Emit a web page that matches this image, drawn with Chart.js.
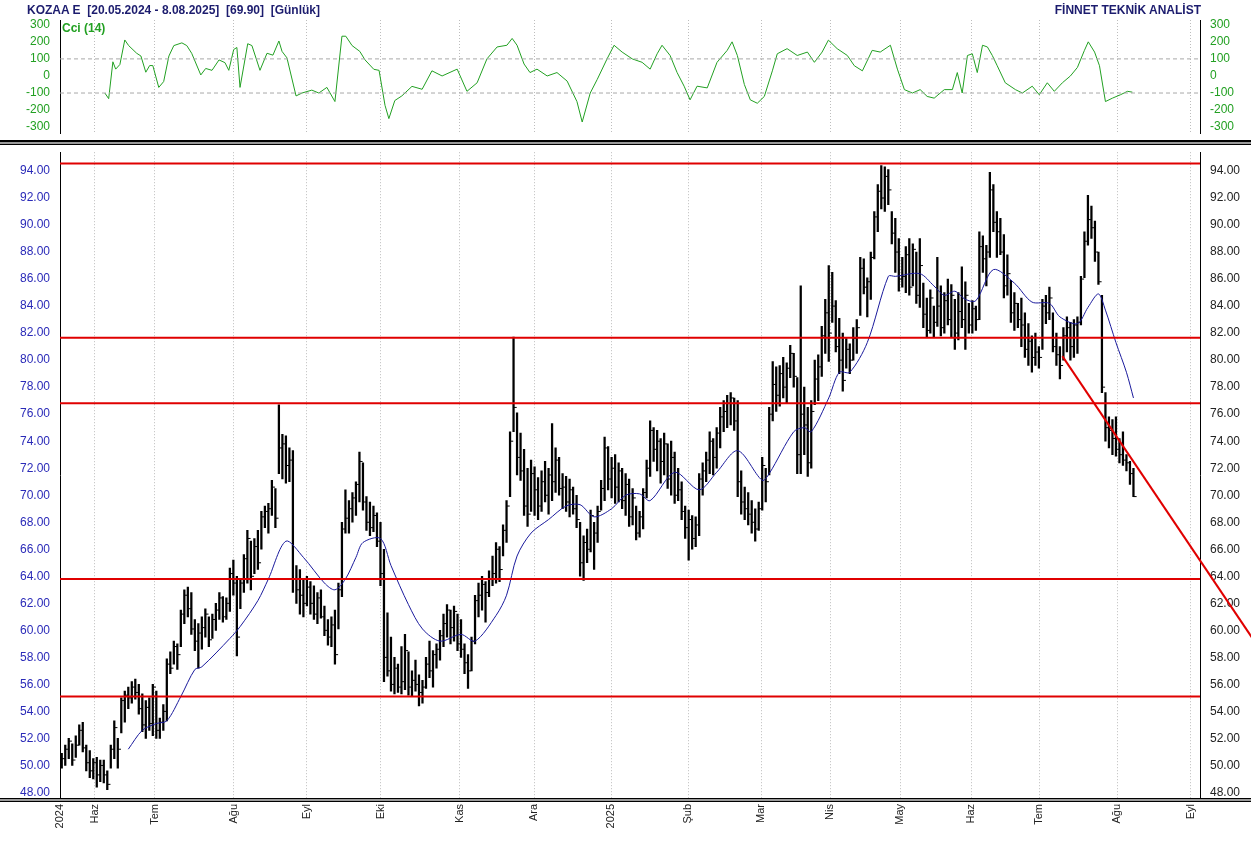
<!DOCTYPE html>
<html>
<head>
<meta charset="utf-8">
<script src="https://cdn.jsdelivr.net/npm/chart.js@4.4.1/dist/chart.umd.min.js"></script>
<style>
  body { margin: 0; width: 1251px; height: 841px; background: #fff; overflow: hidden; font-family: "Liberation Sans", Arial, sans-serif; }
  .box { position: absolute; left: 0; width: 1251px; }
  #title { position: absolute; left: 27px; top: 3px; font-size: 12px; font-weight: bold; color: #1c1c6e; }
  #brand { position: absolute; right: 50px; top: 3px; font-size: 12px; font-weight: bold; color: #1c1c6e; }
  #cciLabel { position: absolute; left: 62px; top: 21px; font-size: 12px; font-weight: bold; color: #22a022; }
  .sep { position: absolute; left: 0; width: 1251px; background: #000; }
</style>
</head>
<body>
<div class="box" style="top:0;height:143px"><canvas id="cciChart"></canvas></div>
<div class="box" style="top:143px;height:698px"><canvas id="priceChart"></canvas></div>
<div id="title">KOZAA E&nbsp; [20.05.2024 - 8.08.2025]&nbsp; [69.90]&nbsp; [Günlük]</div>
<div id="brand">FİNNET TEKNİK ANALİST</div>
<div id="cciLabel">Cci (14)</div>
<div class="sep" style="top:140px;height:2px"></div>
<div class="sep" style="top:142px;height:2px;background:#9a9a9a"></div>
<div class="sep" style="top:144px;height:1px"></div>
<div class="sep" style="top:798px;height:1px"></div>
<div class="sep" style="top:799px;height:2px;background:#9a9a9a"></div>
<div class="sep" style="top:801px;height:1px"></div>
<script>
// month boundaries in trading-day index
const MONTH_POS = [-0.5, 9.4, 26.6, 49.1, 70, 91.1, 113.7, 134.9, 156.9, 178.9, 199.7, 219.4, 239.4, 259.7, 279.1, 301.4, 322.3];
const MONTH_LABELS = ["2024", "Haz", "Tem", "Ağu", "Eyl", "Eki", "Kas", "Ara", "2025", "Şub", "Mar", "Nis", "May", "Haz", "Tem", "Ağu", "Eyl"];

// daily bars: [high, low, close]
const bars = [
  [50.9,49.8,50.5],[51.5,50.0,51.2],[52.0,50.5,51.8],[51.6,50.0,50.4],[52.2,50.6,51.5],[53.0,51.5,52.6],[53.2,51.0,51.3],[51.5,49.6,50.2],[51.1,49.1,49.6],[50.5,49.0,50.2],
  [50.6,48.4,49.3],[50.4,48.8,50.0],[50.4,48.7,49.3],[49.6,48.2,48.6],[51.5,49.8,51.2],[53.3,50.5,52.8],[52.0,49.8,51.2],[55.0,52.4,54.8],[55.5,53.2,55.2],[55.8,54.2,55.0],
  [56.2,54.6,55.8],[56.4,54.9,55.4],[56.0,53.8,54.2],[55.3,52.5,53.0],[54.8,52.0,54.3],[55.0,52.6,53.1],[56.0,52.2,55.8],[55.5,52.0,52.6],[53.5,52.0,53.2],[54.5,52.6,54.0],
  [57.9,53.3,57.5],[58.4,56.8,57.2],[59.2,57.5,58.8],[59.0,57.1,58.2],[61.5,58.8,61.2],[63.0,60.5,62.6],[63.2,61.0,61.6],[62.8,59.7,60.1],[60.8,58.5,59.2],[60.5,57.2,59.8],
  [61.0,58.6,60.2],[61.6,59.5,61.2],[61.0,58.8,59.3],[61.2,59.4,60.8],[62.0,60.0,61.5],[62.8,60.8,62.4],[62.5,60.6,61.0],[62.4,60.8,62.0],[64.6,61.4,64.2],[65.2,62.6,63.5],
  [64.0,58.1,59.5],[63.8,61.6,63.5],[65.6,62.8,65.3],[67.4,63.5,66.8],[66.6,63.0,64.0],[66.8,64.2,66.2],[67.4,64.5,65.0],[68.8,66.0,68.4],[69.2,67.6,68.8],[69.4,67.2,69.0],
  [71.1,68.5,70.6],[70.5,67.6,68.3],[76.7,71.6,73.5],[74.5,71.2,73.8],[74.4,70.9,72.2],[73.5,71.0,72.6],[73.3,62.8,63.8],[64.8,62.0,63.0],[64.5,61.2,62.6],[63.8,61.0,62.0],
  [64.0,61.8,63.2],[63.6,61.2,62.0],[63.3,60.8,61.2],[62.8,60.5,62.4],[63.0,60.9,61.0],[61.8,59.6,60.0],[60.8,58.9,59.5],[61.0,58.8,60.4],[61.5,57.5,58.2],[63.5,60.1,63.0],
  [68.0,62.5,67.5],[70.4,67.2,68.3],[69.6,67.2,69.0],[70.2,68.0,69.8],[71.0,68.5,70.8],[73.2,69.5,72.5],[72.4,68.9,69.5],[69.9,67.4,68.0],[69.5,67.0,67.6],[69.2,67.3,68.5],
  [68.7,66.2,66.6],[68.0,63.3,64.2],[66.0,56.2,58.0],[61.3,56.6,57.0],[59.5,55.5,56.0],[58.0,55.3,57.2],[57.5,55.4,55.8],[58.8,55.3,56.2],[59.7,55.6,58.5],[58.4,55.2,55.8],
  [57.0,55.1,56.3],[57.8,55.5,56.0],[56.7,54.4,55.4],[56.3,54.6,55.8],[58.0,55.7,57.5],[59.2,56.5,57.0],[58.5,55.8,58.2],[59.0,57.2,58.6],[60.0,57.8,59.6],[61.2,58.8,60.5],
  [61.9,59.5,61.5],[61.5,59.0,60.2],[61.8,59.2,61.4],[61.2,58.5,59.0],[60.8,58.0,58.6],[59.0,56.8,57.6],[58.2,55.7,57.0],[59.5,57.0,59.2],[62.6,59.0,62.2],[63.5,61.0,62.6],
  [64.0,61.5,63.4],[63.6,60.6,62.8],[64.4,62.5,63.8],[65.5,63.3,64.2],[66.5,63.5,66.0],[66.2,63.6,64.5],[67.8,65.5,67.4],[69.6,66.5,69.2],[74.7,69.9,74.0],[81.7,74.7,76.5],
  [76.1,71.5,72.8],[74.6,71.1,71.8],[73.4,68.5,69.2],[72.0,67.7,68.6],[72.6,68.8,71.6],[72.1,68.5,70.4],[71.3,68.2,69.2],[71.8,68.8,71.0],[72.5,69.5,70.0],[72.0,68.6,71.5],
  [75.3,69.6,71.0],[73.5,70.2,72.6],[72.8,70.0,70.5],[71.6,69.0,70.6],[71.4,68.8,69.5],[71.2,68.4,70.4],[70.6,68.6,69.0],[70.0,67.6,68.2],[68.0,64.0,65.0],[67.0,63.7,66.5],
  [67.5,65.0,66.0],[68.9,65.8,68.5],[68.0,64.5,67.2],[69.2,66.5,68.8],[71.1,68.9,70.5],[74.3,69.6,73.5],[73.6,70.4,71.2],[72.8,69.8,72.0],[73.0,69.4,70.6],[72.4,69.5,71.8],
  [72.0,69.0,69.6],[71.6,68.5,70.8],[71.2,67.7,68.4],[70.5,67.8,69.8],[69.2,66.7,67.2],[68.8,66.9,68.4],[70.5,67.5,70.2],[72.6,69.8,72.0],[75.5,71.4,74.8],[75.0,72.5,73.4],
  [74.8,71.8,74.0],[74.2,70.9,72.5],[74.6,71.5,73.8],[73.8,70.5,71.2],[74.0,70.0,72.8],[73.2,69.4,70.0],[72.0,69.6,70.4],[71.0,68.2,68.8],[69.2,66.8,67.6],[68.9,65.2,68.2],
  [68.5,66.0,66.8],[68.4,66.2,67.8],[71.6,67.0,71.2],[72.4,70.0,71.8],[73.2,71.0,72.6],[74.7,71.6,74.0],[74.2,71.5,72.8],[75.0,72.0,74.6],[76.5,73.5,75.8],[77.0,74.7,76.2],
  [77.4,75.0,76.8],[77.6,75.2,77.2],[77.2,74.8,75.5],[77.0,69.9,71.0],[71.8,68.6,69.5],[70.6,68.2,69.0],[70.2,67.8,68.6],[69.6,67.2,68.0],[69.0,66.6,67.5],[69.5,67.4,69.0],
  [72.8,68.9,72.2],[72.0,69.5,71.0],[76.5,71.5,76.0],[79.9,75.5,78.2],[79.5,76.2,77.4],[79.6,76.6,79.0],[80.2,77.2,78.0],[79.8,76.8,79.4],[81.1,78.7,80.5],[80.5,78.0,78.8],
  [78.7,71.6,73.0],[85.5,71.6,76.0],[78.0,73.0,75.2],[76.5,71.4,72.4],[77.0,72.0,76.2],[80.0,76.7,78.6],[80.4,77.0,79.5],[82.5,78.8,81.8],[84.5,80.5,83.5],[87.0,79.9,82.0],
  [86.5,82.8,84.0],[84.4,80.6,81.0],[83.1,79.0,80.0],[82.0,77.7,78.5],[81.6,79.4,80.8],[81.2,79.0,80.0],[82.4,80.0,81.6],[83.0,80.5,82.4],[87.6,83.3,86.8],[87.5,84.9,85.4],
  [86.1,83.2,85.8],[88.0,84.5,87.6],[91.0,87.5,90.6],[93.0,89.5,92.5],[94.4,91.2,92.0],[94.3,91.0,93.6],[94.1,91.5,92.6],[91.0,88.6,89.4],[90.5,86.5,88.0],[89.0,85.1,86.0],
  [87.6,85.4,86.2],[88.4,85.0,87.8],[89.0,84.8,85.4],[88.6,85.5,88.2],[88.0,84.2,84.8],[89.0,83.9,87.0],[85.7,82.4,83.4],[84.6,81.7,82.2],[85.2,82.0,84.6],[84.0,81.7,82.8],
  [87.6,82.5,84.0],[85.5,81.8,82.4],[85.0,82.0,84.4],[86.0,82.6,83.0],[85.6,81.7,84.8],[84.5,80.8,82.0],[85.0,81.5,83.6],[86.9,82.4,83.0],[85.8,80.8,84.8],[84.2,82.0,82.6],
  [84.4,82.0,83.8],[84.0,82.2,83.0],[89.5,83.0,88.4],[89.2,86.5,87.5],[88.5,85.5,88.0],[93.9,87.6,92.6],[93.0,89.5,90.2],[91.0,87.6,89.5],[90.5,87.8,88.0],[89.3,84.6,85.5],
  [87.8,84.8,86.4],[85.9,82.8,83.5],[85.0,82.2,84.2],[84.2,82.4,83.0],[84.6,81.0,82.6],[83.5,80.2,80.8],[82.7,79.6,81.4],[81.8,79.1,80.2],[82.0,79.6,80.6],[81.0,79.4,80.2],
  [84.5,80.8,84.0],[84.8,82.7,83.5],[85.4,83.0,84.6],[83.5,80.6,81.0],[82.0,79.6,80.4],[81.0,78.6,79.6],[82.4,80.0,81.8],[83.2,80.6,82.4],[82.8,80.0,81.0],[83.0,80.2,82.6],
  [83.2,80.5,82.8],[86.2,82.6,86.0],[89.5,86.1,88.8],[92.2,88.5,90.4],[91.4,89.0,89.8],[90.3,87.3,88.0],[88.0,85.6,85.8],[84.8,77.6,78.0],[77.6,74.0,75.0],[75.8,73.5,74.8],
  [75.6,73.0,74.2],[75.8,72.9,73.4],[74.2,72.4,73.0],[74.7,72.2,72.6],[73.0,71.8,72.4],[72.5,70.8,71.6],[72.0,69.9,69.9]
];

// moving average
const maIdx = [19, 23, 27, 30, 34, 38, 40, 48, 51, 56, 59, 64, 69, 75, 78, 81, 84, 86, 91, 94, 99, 103, 108, 114, 118, 124, 127, 130, 134, 139, 144, 148, 152, 157, 161, 165, 168, 175, 182, 187, 193, 200, 202, 209, 212, 214, 219, 222, 225, 230, 236, 238, 245, 249, 252, 255, 258, 261, 266, 272, 277, 282, 285, 290, 293, 296, 298, 301, 304, 306];
const maVal = [51.2, 52.6, 53.1, 53.3, 55.1, 57.1, 57.3, 59.4, 60.3, 62.2, 63.8, 66.6, 65.4, 63.5, 63.0, 63.8, 65.4, 66.5, 66.8, 64.8, 61.9, 60.1, 59.2, 59.7, 59.2, 61.1, 62.6, 65.5, 67.2, 68.2, 69.2, 69.3, 68.4, 69.0, 70.0, 70.1, 69.6, 71.7, 70.4, 71.7, 73.3, 71.1, 71.6, 74.7, 75.0, 74.7, 77.2, 79.1, 79.1, 81.3, 86.2, 86.2, 86.4, 85.5, 84.8, 85.1, 84.5, 84.4, 86.7, 85.7, 84.3, 84.2, 83.2, 82.7, 83.9, 84.9, 83.7, 81.3, 79.1, 77.2];

// CCI(14)
const cciIdx = [12.3, 13.4, 14.6, 15.4, 16.6, 18, 19.1, 21.4, 22.6, 24, 25.1, 26, 27.7, 29.1, 30.6, 32, 34.3, 35.7, 37.1, 39.7, 41.1, 42.9, 44.9, 46.6, 47.7, 49.1, 50, 50.9, 53.1, 54.3, 56.6, 58.6, 60.3, 62, 62.9, 64.3, 66.9, 68.6, 71.4, 73.4, 75.7, 78, 80, 81.1, 82.9, 85.1, 86.6, 89.1, 90.6, 92.3, 93.4, 95.1, 97.1, 100, 102.9, 105.7, 108.6, 112.9, 115.7, 118.6, 121.4, 124.3, 127.1, 128.6, 130, 132, 133.7, 135.7, 138.6, 141.4, 144.3, 147.1, 148.6, 150.9, 152.9, 155.7, 157.7, 160, 162.9, 165.7, 168, 170, 171.4, 173.7, 175.7, 177.7, 179.4, 181.4, 184.3, 187.1, 190, 191.4, 192.9, 194.9, 196.6, 198.6, 200.6, 202.9, 204.3, 207.1, 210, 212.9, 214.9, 217.1, 218.9, 221.4, 224.3, 226.3, 228.6, 231.4, 233.7, 236.6, 238.6, 240.6, 242.9, 245.1, 247.1, 249.1, 252, 254.3, 255.7, 257.1, 258.6, 260, 261.4, 262.9, 264.3, 265.7, 267.1, 269.4, 272.3, 274.3, 277.1, 279.1, 281.4, 283.4, 285.7, 288, 290, 292, 293.1, 294.9, 296.3, 298, 300, 302.3, 304.3, 305.7];
const cciVal = [-100, -133, 83, 40, 67, 211, 178, 133, 117, 22, 61, 61, -67, -33, 117, 178, 194, 178, 133, 6, 44, 33, 94, 78, 33, 155, 167, -67, 189, 178, 33, 133, 122, 205, 144, 106, -117, -100, -83, -100, -67, -150, 233, 233, 178, 144, 94, 39, 33, -172, -250, -144, -117, -61, -78, 30, 0, 40, -90, -40, 100, 170, 180, 220, 180, 70, 20, 40, 0, 20, -30, -150, -270, -100, -20, 100, 180, 140, 100, 80, 40, 130, 180, 120, 20, -60, -140, -60, -70, 80, 150, 200, 120, -50, -140, -160, -120, 30, 130, 160, 120, 140, 80, 140, 210, 160, 120, 60, 30, 150, 140, 180, 40, -80, -100, -80, -120, -130, -80, -80, 20, -100, 120, 130, 20, 180, 170, 120, 60, -40, -80, -100, -60, -110, -40, -90, -40, 0, 50, 150, 200, 140, 60, -150, -130, -110, -90, -95];
const cciGuides = [100, -100];

// support / resistance levels and the falling trend line
const levels = [94.55, 81.65, 76.8, 63.8, 55.1];
const trendIdx = [285.7, 340];
const trendVal = [80.3, 59.4];

const X_MIN = -0.5, X_MAX = 325;
const LEFT_W = 60, RIGHT_W = 51;

function xScale(showTicks) {
  return {
    type: "linear", min: X_MIN, max: X_MAX, offset: false,
    afterBuildTicks: (s) => { s.ticks = MONTH_POS.map((v) => ({ value: v })); },
    afterFit: (s) => { s.height = showTicks ? 43 : 0; },
    grid: { offset: false, color: "#bdbdbd", lineWidth: 1, drawTicks: showTicks, tickLength: 4, tickColor: "#555" },
    border: { display: false, dash: [1, 2] },
    ticks: {
      display: showTicks, autoSkip: false, maxRotation: 90, minRotation: 90, padding: 2,
      color: "#222", font: { family: "Liberation Sans", size: 11 },
      callback: (v) => { const k = MONTH_POS.indexOf(v); return k >= 0 ? MONTH_LABELS[k] : ""; },
    },
  };
}

function yAxis(pos, min, max, step, color, fmt, width) {
  return {
    type: "linear", position: pos, min, max,
    afterBuildTicks: (s) => {
      const t = [];
      for (let v = Math.ceil(min / step) * step; v <= max; v += step) t.push({ value: v });
      s.ticks = t;
    },
    afterFit: (s) => { s.width = width; },
    grid: { display: false },
    border: { display: true, color: "#000", width: 1 },
    ticks: { color, font: { family: "Liberation Sans", size: 12 }, padding: 2, callback: fmt },
  };
}

Chart.defaults.animation = false;

new Chart(document.getElementById("priceChart"), {
  data: {
    datasets: [
      ...levels.map((v) => ({
        type: "line", data: [{ x: X_MIN, y: v }, { x: X_MAX, y: v }],
        borderColor: "#e00000", borderWidth: 2, pointRadius: 0,
      })),
      {
        type: "line", data: trendIdx.map((x, k) => ({ x, y: trendVal[k] })),
        borderColor: "#e00000", borderWidth: 2, pointRadius: 0, clip: false,
      },
      {
        type: "line", data: maIdx.map((x, k) => ({ x, y: maVal[k] })),
        borderColor: "#1a1a9c", borderWidth: 1, pointRadius: 0, tension: 0.3,
      },
      {
        type: "bar", data: bars.map((b, i) => ({ x: i, y: [b[1], b[0]] })),
        backgroundColor: "#000", barThickness: 1.6, grouped: false,
      },
      {
        type: "scatter", data: bars.map((b, i) => ({ x: i + 0.45, y: b[2] })),
        pointStyle: "line", radius: 1.6, borderColor: "#000", borderWidth: 1,
      },
    ],
  },
  options: {
    responsive: true, maintainAspectRatio: false,
    layout: { padding: { top: 2, bottom: 0, left: 0, right: 0 } },
    plugins: { legend: { display: false }, tooltip: { enabled: false } },
    scales: {
      x: xScale(true),
      y: yAxis("left", 47.59, 95.39, 2, "#2a2ab8", (v) => v.toFixed(2), LEFT_W),
      y2: yAxis("right", 47.59, 95.39, 2, "#222", (v) => v.toFixed(2), RIGHT_W),
    },
  },
});

new Chart(document.getElementById("cciChart"), {
  type: "line",
  data: {
    datasets: [
      ...cciGuides.map((v) => ({
        data: [{ x: X_MIN, y: v }, { x: X_MAX, y: v }],
        borderColor: "#a8a8a8", borderWidth: 1, borderDash: [4, 3], pointRadius: 0,
      })),
      {
        data: cciIdx.map((x, k) => ({ x, y: cciVal[k] })),
        borderColor: "#22a022", borderWidth: 1, pointRadius: 0, tension: 0,
      },
    ],
  },
  options: {
    responsive: true, maintainAspectRatio: false,
    layout: { padding: { top: 20, bottom: 3, left: 0, right: 0 } },
    plugins: { legend: { display: false }, tooltip: { enabled: false } },
    scales: {
      x: xScale(false),
      y: yAxis("left", -339, 328, 100, "#22a022", (v) => String(v), LEFT_W),
      y2: yAxis("right", -339, 328, 100, "#22a022", (v) => String(v), RIGHT_W),
    },
  },
});
</script>
</body>
</html>
